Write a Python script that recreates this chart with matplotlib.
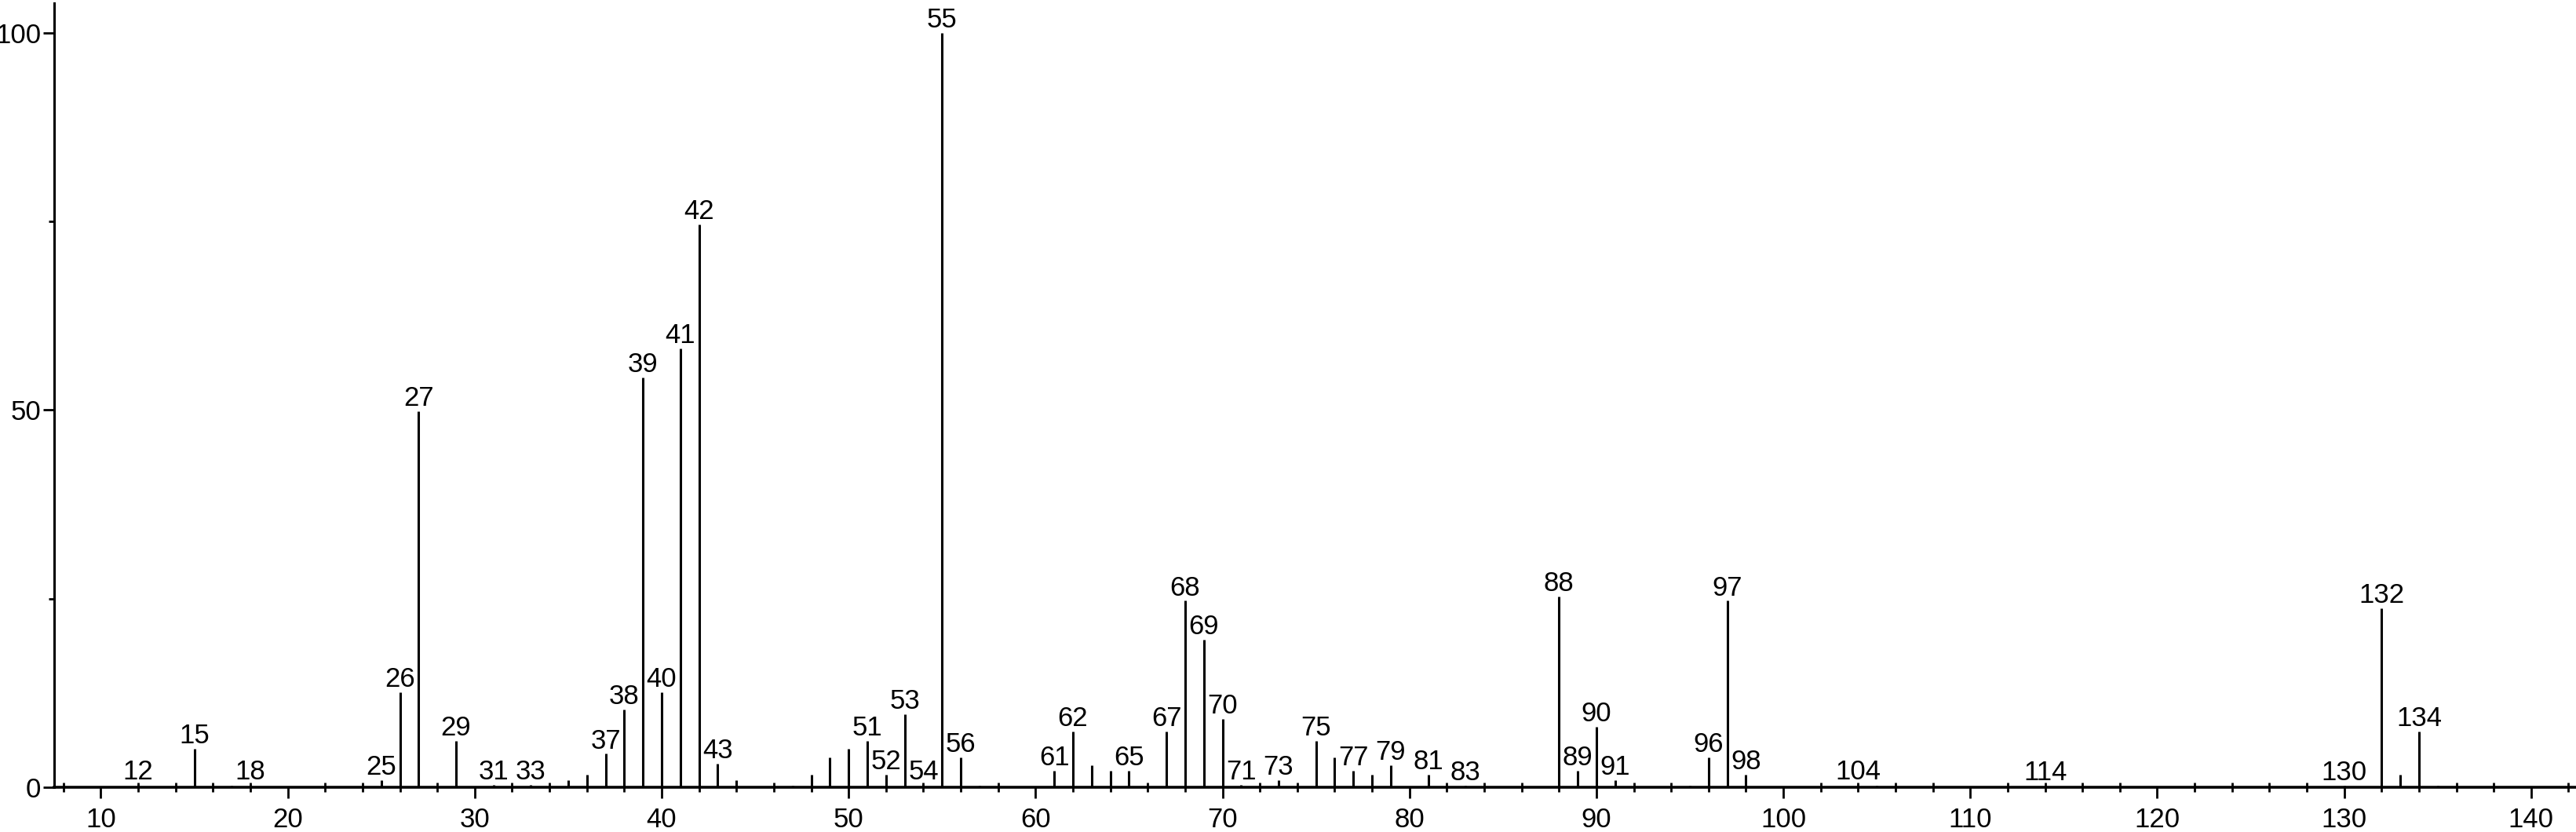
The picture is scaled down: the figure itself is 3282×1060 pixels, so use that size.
import matplotlib
matplotlib.use('Agg')
import matplotlib.pyplot as plt
from matplotlib.ticker import MultipleLocator

plt.rcParams['font.family'] = ['Liberation Sans', 'DejaVu Sans']

# m/z values and relative intensities
mz = [12, 13, 15, 17, 18, 25, 26, 27, 29, 31, 33, 35, 36, 37, 38, 39, 40, 41, 42,
      43, 44, 47, 48, 49, 50, 51, 52, 53, 54, 55, 56, 57, 61, 62, 63, 64, 65, 67,
      68, 69, 70, 71, 73, 75, 76, 77, 78, 79, 81, 83, 88, 89, 90, 91, 95, 96, 97,
      98, 104, 105, 114, 130, 132, 133, 134, 135]
intensity = [0.3, 0.1, 5.1, 0.2, 0.3, 0.9, 12.6, 49.8, 6.1, 0.3, 0.3, 0.9, 1.6, 4.4,
             10.3, 54.3, 12.6, 58.2, 74.6, 3.1, 0.9, 0.2, 1.6, 3.9, 5.1, 6.1, 1.6,
             9.7, 0.3, 100.0, 3.9, 0.2, 2.2, 7.4, 2.9, 2.2, 2.2, 7.4, 24.7, 19.5,
             9.0, 0.3, 0.9, 6.1, 3.9, 2.2, 1.6, 2.9, 1.6, 0.2, 25.3, 2.2, 8.0, 0.9,
             0.2, 3.9, 24.7, 1.6, 0.3, 0.2, 0.2, 0.2, 23.7, 1.6, 7.4, 0.2]
labelled = [12, 15, 18, 25, 26, 27, 29, 31, 33, 37, 38, 39, 40, 41, 42, 43, 51, 52,
            53, 54, 55, 56, 61, 62, 65, 67, 68, 69, 70, 71, 73, 75, 77, 79, 81, 83,
            88, 89, 90, 91, 96, 97, 98, 104, 114, 130, 132, 134]

fig = plt.figure(figsize=(32.82, 10.6), dpi=100)
ax = fig.add_axes([0.021, 0.054, 0.979, 0.9425])

ax.vlines(mz, 0, intensity, colors='black', linewidth=2.2)

for m, h in zip(mz, intensity):
    if m in labelled:
        ax.annotate(str(m), (m, h), xytext=(0, 5), textcoords='offset points',
                    ha='center', va='baseline', fontsize=25)

ax.set_xlim(7.5, 142.4)
ax.set_ylim(0, 104)

ax.spines['top'].set_visible(False)
ax.spines['right'].set_visible(False)
ax.spines['left'].set_linewidth(2.2)
ax.spines['bottom'].set_linewidth(2.6)

ax.xaxis.set_major_locator(MultipleLocator(10))
ax.xaxis.set_minor_locator(MultipleLocator(2))
ax.yaxis.set_major_locator(MultipleLocator(50))
ax.yaxis.set_minor_locator(MultipleLocator(25))

ax.tick_params(axis='x', which='major', direction='out', length=10, width=2,
               labelsize=25, pad=8)
ax.tick_params(axis='x', which='minor', direction='inout', length=8, width=2)
ax.tick_params(axis='y', which='major', direction='out', length=10, width=2,
               labelsize=25, pad=2)
ax.tick_params(axis='y', which='minor', direction='out', length=5, width=2)

fig.savefig('out.png', dpi=100)
plt.close(fig)
